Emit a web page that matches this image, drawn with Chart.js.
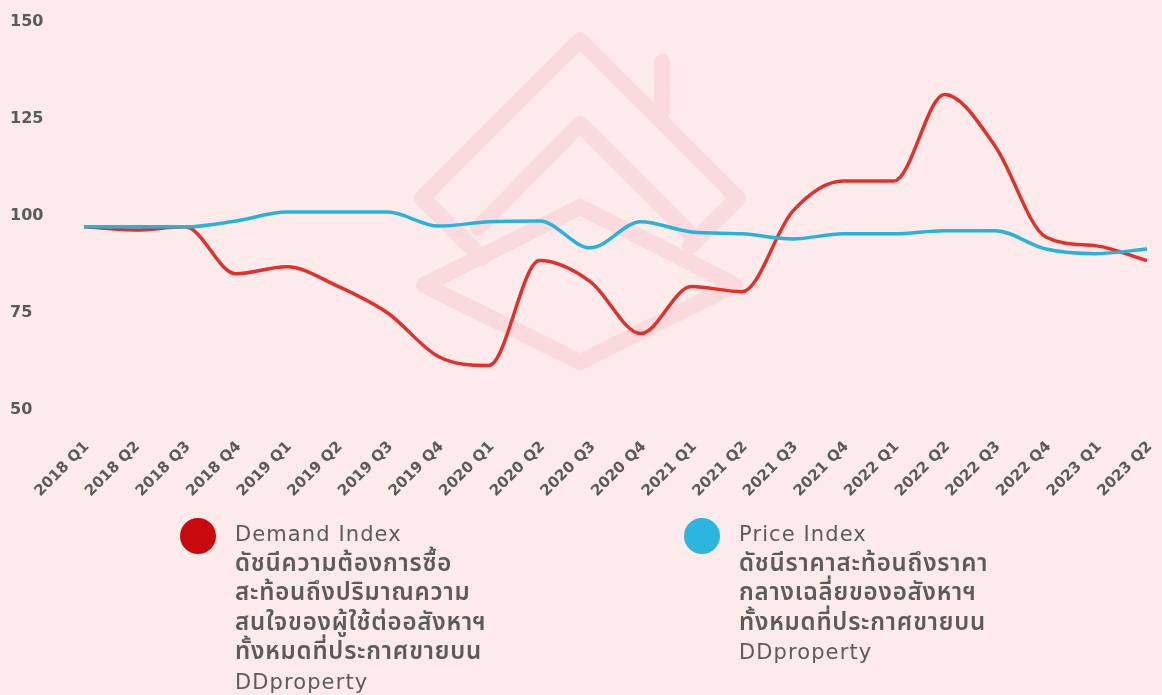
<!DOCTYPE html>
<html>
<head>
<meta charset="utf-8">
<script src="https://cdn.jsdelivr.net/npm/chart.js@4"></script>
<style>
  body { margin: 0; background: #fdeaeb; width: 1162px; height: 695px; overflow: hidden; position: relative; font-family: "DejaVu Sans", sans-serif; }
  #wrap { position: absolute; left: 0; top: 0; width: 1162px; height: 520px; }
  .legend { position: absolute; top: 516px; color: #5c5a5a; }
  .dot { position: absolute; left: 0; top: 2px; width: 36px; height: 36px; border-radius: 50%; }
  .txt { position: absolute; left: 55px; top: 4px; white-space: nowrap; line-height: 29.5px; }
  .txt .en { font-family: "DejaVu Sans", sans-serif; font-size: 21px; letter-spacing: 1.1px; }
  .txt .th { font-family: "Noto Sans Thai", "Noto Sans", sans-serif; font-weight: 600; font-size: 24px; letter-spacing: 0.8px; }
</style>
</head>
<body>
<div id="wrap"><canvas id="indexChart"></canvas></div>

<div class="legend" style="left:180px">
  <div class="dot" style="background:#c80a0e"></div>
  <div class="txt">
    <div class="en">Demand Index</div>
    <div class="th">ดัชนีความต้องการซื้อ</div>
    <div class="th">สะท้อนถึงปริมาณความ</div>
    <div class="th">สนใจของผู้ใช้ต่ออสังหาฯ</div>
    <div class="th">ทั้งหมดที่ประกาศขายบน</div>
    <div class="en">DDproperty</div>
  </div>
</div>
<div class="legend" style="left:684px">
  <div class="dot" style="background:#2cb5df"></div>
  <div class="txt">
    <div class="en">Price Index</div>
    <div class="th">ดัชนีราคาสะท้อนถึงราคา</div>
    <div class="th">กลางเฉลี่ยของอสังหาฯ</div>
    <div class="th">ทั้งหมดที่ประกาศขายบน</div>
    <div class="en">DDproperty</div>
  </div>
</div>

<script>
const quarters = ['2018 Q1', '2018 Q2', '2018 Q3', '2018 Q4', '2019 Q1', '2019 Q2', '2019 Q3', '2019 Q4',
  '2020 Q1', '2020 Q2', '2020 Q3', '2020 Q4', '2021 Q1', '2021 Q2', '2021 Q3', '2021 Q4',
  '2022 Q1', '2022 Q2', '2022 Q3', '2022 Q4', '2023 Q1', '2023 Q2'];
const demandIndex = [97.2, 96.4, 97.2, 85.1, 86.9, 82.0, 75.0, 63.8, 61.5, 88.5, 83.1, 69.7,
  81.8, 80.5, 101.2, 109.0, 109.0, 131.3, 118.0, 94.6, 92.3, 88.5];
const priceIndex = [97.2, 97.2, 97.2, 98.7, 101.0, 101.0, 101.0, 97.4, 98.5, 98.7, 91.8, 98.5,
  95.9, 95.4, 94.1, 95.4, 95.4, 96.2, 96.2, 91.5, 90.3, 91.5];
const yTicks = [50, 75, 100, 125, 150];

// faint house logo behind the lines
const watermark = {
  id: 'watermark',
  beforeDatasetsDraw(chart) {
    const c = chart.ctx;
    c.save();
    c.strokeStyle = '#fadadc';
    c.lineWidth = 16;
    c.lineJoin = 'round';
    c.lineCap = 'round';
    c.beginPath();
    c.moveTo(482, 258); c.lineTo(422, 198); c.lineTo(580, 40); c.lineTo(738, 198); c.lineTo(690, 246);
    c.moveTo(662, 62); c.lineTo(662, 112);
    c.moveTo(478, 228); c.lineTo(580, 124); c.lineTo(690, 234);
    c.moveTo(580, 207); c.lineTo(735, 285); c.lineTo(580, 362); c.lineTo(424, 285); c.closePath();
    c.stroke();
    c.restore();
  }
};

new Chart(document.getElementById('indexChart'), {
  type: 'line',
  data: {
    labels: quarters,
    datasets: [{
      label: 'Demand Index',
      data: demandIndex,
      borderColor: '#e0312c',
      borderWidth: 3.5,
      pointRadius: 0,
      cubicInterpolationMode: 'monotone',
      order: 1
    }, {
      label: 'Price Index',
      data: priceIndex,
      borderColor: '#27b3da',
      borderWidth: 3.5,
      pointRadius: 0,
      cubicInterpolationMode: 'monotone',
      order: 0
    }]
  },
  options: {
    responsive: true,
    maintainAspectRatio: false,
    animation: false,
    layout: { padding: { left: 10, right: 0, top: 22, bottom: 0 } },
    plugins: { legend: { display: false }, tooltip: { enabled: false } },
    scales: {
      x: {
        grid: { display: false },
        border: { display: false },
        afterFit: s => { s.height = 110; s.paddingLeft = 0; s.paddingRight = 15; },
        ticks: {
          color: '#5a5a5a',
          font: { family: 'DejaVu Sans', size: 15, weight: 'bold' },
          maxRotation: 45,
          minRotation: 45,
          padding: 20,
          labelOffset: 3,
          autoSkip: false
        }
      },
      y: {
        min: 50,
        max: 150,
        grid: { display: false },
        border: { display: false },
        afterFit: s => { s.width = 74; },
        afterBuildTicks: s => { s.ticks = yTicks.map(v => ({ value: v })); },
        ticks: {
          color: '#5a5a5a',
          crossAlign: 'far',
          font: { family: 'DejaVu Sans', size: 16, weight: 'bold' }
        }
      }
    }
  },
  plugins: [watermark]
});
</script>
</body>
</html>
